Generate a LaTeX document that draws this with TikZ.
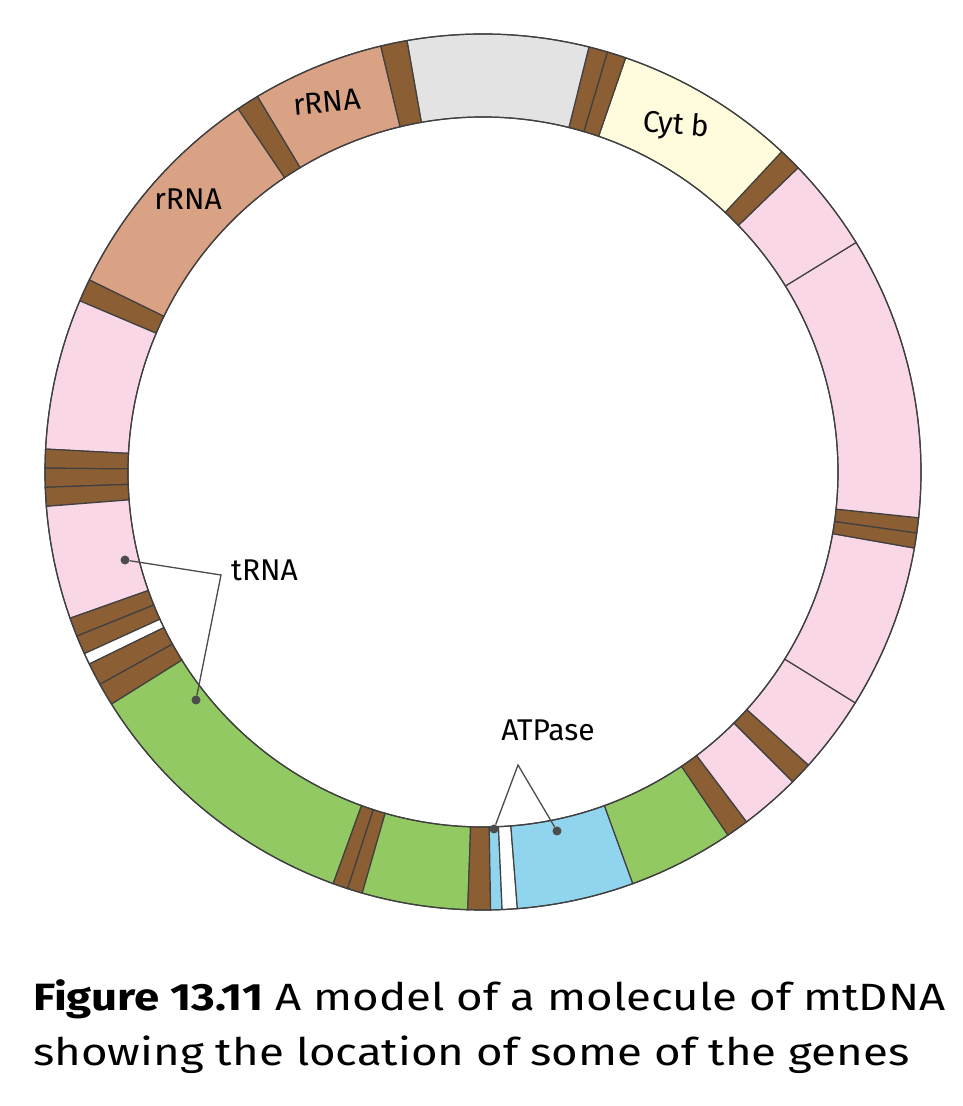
\documentclass[tikz,border=0pt]{standalone}
\usepackage{fontspec}
\setmainfont{Fira Sans}
\definecolor{brn}{HTML}{8B5E34}
\definecolor{salm}{HTML}{D9A284}
\definecolor{pnk}{HTML}{F9D7E7}
\definecolor{grn}{HTML}{93C962}
\definecolor{blu}{HTML}{90D4EE}
\definecolor{ylw}{HTML}{FFFCDE}
\definecolor{gry}{HTML}{E3E3E3}
\newcommand{\seg}[3]{\fill[#3,draw=black!75,line width=1.2pt] (#1:438) arc[start angle=#1,end angle=#2,radius=438] -- (#2:355) arc[start angle=#2,end angle=#1,radius=355] -- cycle;}
\tikzset{lbl/.style={font=\fontsize{30}{34}\selectfont,inner sep=1pt},
 lead/.style={draw=black!70,line width=1.3pt},
 dot/.style={circle,fill=black!70,minimum size=9pt,inner sep=0pt}}
\begin{document}
\begin{tikzpicture}[x=1pt,y=1pt]
\useasboundingbox (0,0) rectangle (962,1106);
\begin{scope}[shift={(483,634)}]
\seg{103.5}{121}{salm}
\seg{121}{124}{brn}
\seg{124}{154}{salm}
\seg{154}{157}{brn}
\seg{157}{177}{pnk}
\seg{177}{179.5}{brn}
\seg{179.5}{182}{brn}
\seg{182}{184.5}{brn}
\seg{184.5}{199.5}{pnk}
\seg{199.5}{202}{brn}
\seg{202}{204.5}{brn}
\seg{204.5}{206}{white}
\seg{206}{209}{brn}
\seg{209}{212}{brn}
\seg{212}{250}{grn}
\seg{250}{252}{brn}
\seg{252}{254}{brn}
\seg{254}{268}{grn}
\seg{268}{271}{brn}
\seg{271}{272.5}{blu}
\seg{272.5}{274.5}{white}
\seg{274.5}{290}{blu}
\seg{290}{304}{grn}
\seg{304}{307}{brn}
\seg{307}{315}{pnk}
\seg{315}{318}{brn}
\seg{318}{328.2}{pnk}
\seg{328.2}{350}{pnk}
\seg{350}{352}{brn}
\seg{352}{354}{brn}
\seg{354}{391.6}{pnk}
\seg{31.6}{44}{pnk}
\seg{44}{47}{brn}
\seg{47}{71}{ylw}
\seg{71}{73.5}{brn}
\seg{73.5}{76}{brn}
\seg{76}{100}{gry}
\seg{100}{103.5}{brn}
\draw[black!75,line width=1.2pt] (0,0) circle[radius=438] (0,0) circle[radius=355];
\end{scope}
\node[lbl,rotate=5] (r1) at (327,1004) {rRNA};
\node[lbl] (r2) at (188,907) {rRNA};
\node[lbl,rotate=-5] (cb) at (676,980) {Cyt b};
\node[lbl,anchor=west] (trna) at (230,536) {tRNA};
\node[dot] (t1) at (125,546) {};
\node[dot] (t2) at (196,406) {};
\coordinate (tc) at (221,531);
\draw[lead] (t1) -- (tc) -- (t2);
\node[lbl] (atp) at (548,376) {ATPase};
\node[dot] (a1) at (494,277) {};
\node[dot] (a2) at (557,275) {};
\coordinate (ac) at (518,341);
\draw[lead] (a1) -- (ac) -- (a2);
\node[anchor=west,inner sep=0pt] (cap) at (33,79) {\scalebox{1.2}[1]{\fontsize{38}{55}\selectfont\begin{tabular}{@{}l@{}}\textbf{Figure 13.11} A model of a molecule of mtDNA\\showing the location of some of the genes\end{tabular}}};
\end{tikzpicture}
\end{document}
